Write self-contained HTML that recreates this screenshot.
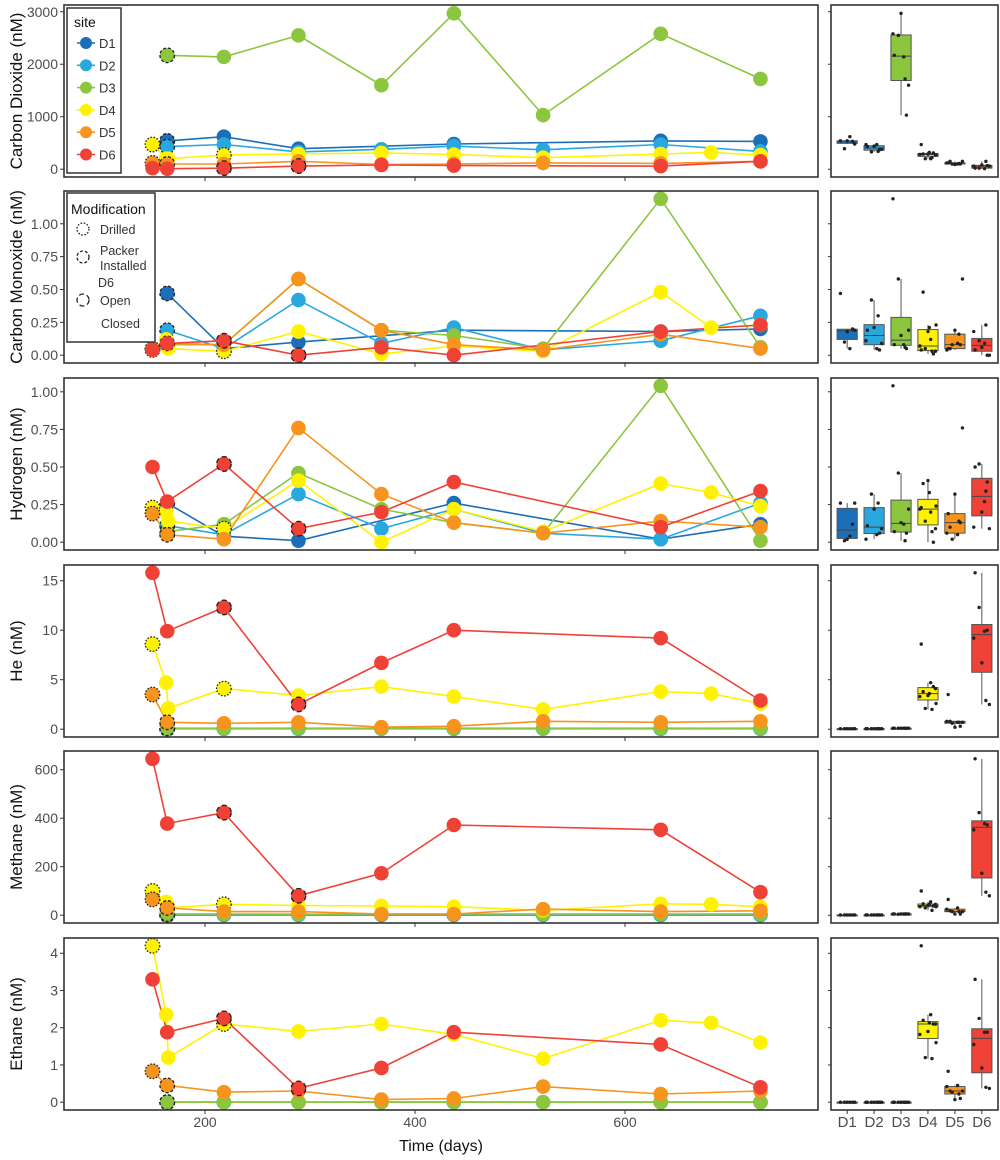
<!DOCTYPE html>
<html><head><meta charset="utf-8">
<style>
html,body{margin:0;padding:0;background:#fff;}
svg{display:block;font-family:"Liberation Sans",sans-serif;}
</style></head>
<body>
<svg id="chart" width="1000" height="1160" viewBox="0 0 1000 1160"></svg>
<script>
const sites=['D1','D2','D3','D4','D5','D6'];
const colors=['#1b6fb8','#29a8e0','#8cc63f','#fff200','#f7941d','#ef4136'];
const daysD1=[164,218,289,437,634,729];
const daysD2=[164,218,289,368,437,522,634,729];
const daysD3=[164,218,289,368,437,522,634,729];
const daysD4=[150,163,165,218,289,368,437,522,634,682,729];
const daysD5=[150,164,218,289,368,437,522,634,729];
const daysD6=[150,164,218,289,368,437,634,729];
const modD1=['p','','','','',''];
const modD2=['p','','','','','','',''];
const modD3=['p','','','','','','',''];
const modD4=['d','','','d','','','','','','',''];
const modD5=['d','p','','','','','','',''];
const modD6=['','','o','o','','','',''];
// Carbon dioxide
const co2D1=[540,620,390,480,540,530];
const co2D2=[430,470,330,380,440,370,470,340];
const co2D3=[2170,2140,2550,1600,2970,1030,2580,1720];
const co2D4=[470,200,200,270,290,310,280,220,290,320,270];
const co2D5=[120,100,100,150,90,100,120,110,150];
const co2D6=[20,10,20,60,80,70,60,150];
// Carbon monoxide
const coD1=[0.47,0.05,0.10,0.19,0.18,0.20];
const coD2=[0.19,0.05,0.42,0.09,0.21,0.04,0.11,0.30];
const coD3=[0.08,0.08,0.58,0.19,0.15,0.05,1.19,0.06];
const coD4=[0.04,0.12,0.05,0.03,0.18,0.01,0.07,0.03,0.48,0.21,0.23];
const coD5=[0.05,0.09,0.08,0.58,0.19,0.08,0.04,0.16,0.05];
const coD6=[0.04,0.09,0.11,0.00,0.06,0.00,0.18,0.23];
// Hydrogen
const h2D1=[0.26,0.04,0.01,0.26,0.02,0.12];
const h2D2=[0.11,0.05,0.32,0.09,0.22,0.06,0.02,0.26];
const h2D3=[0.07,0.12,0.46,0.22,0.13,0.06,1.04,0.01];
const h2D4=[0.23,0.20,0.14,0.09,0.41,0.00,0.22,0.07,0.39,0.33,0.24];
const h2D5=[0.19,0.05,0.02,0.76,0.32,0.13,0.06,0.14,0.10];
const h2D6=[0.50,0.27,0.52,0.09,0.20,0.40,0.10,0.34];
// Helium
const heD1=[0.05,0.05,0.05,0.05,0.05,0.05];
const heD2=[0.05,0.05,0.05,0.05,0.05,0.05,0.05,0.05];
const heD3=[0.1,0.1,0.1,0.1,0.1,0.1,0.1,0.1];
const heD4=[8.6,4.7,2.1,4.1,3.4,4.3,3.3,2.0,3.8,3.6,2.6];
const heD5=[3.5,0.7,0.6,0.7,0.2,0.3,0.8,0.7,0.8];
const heD6=[15.8,9.9,12.3,2.5,6.7,10.0,9.2,2.9];
// Methane
const ch4D1=[1,1,1,1,1,1];
const ch4D2=[1,1,1,1,1,1,1,1];
const ch4D3=[5,5,4,5,5,5,5,5];
const ch4D4=[100,55,30,45,40,38,35,20,47,45,35];
const ch4D5=[65,30,15,15,5,5,25,15,18];
const ch4D6=[645,378,423,80,173,372,352,95];
// Ethane
const c2D1=[0,0,0,0,0,0];
const c2D2=[0,0,0,0,0,0,0,0];
const c2D3=[0,0,0,0,0,0,0,0];
const c2D4=[4.2,2.35,1.2,2.1,1.9,2.1,1.82,1.17,2.2,2.13,1.6];
const c2D5=[0.83,0.45,0.27,0.3,0.07,0.1,0.42,0.22,0.3];
const c2D6=[3.3,1.88,2.25,0.37,0.92,1.88,1.55,0.4];
const xTicks=[200,400,600];
const co2Ticks=[0,1000,2000,3000];
const coTicks=[0,0.25,0.5,0.75,1.0];
const h2Ticks=[0,0.25,0.5,0.75,1.0];
const heTicks=[0,5,10,15];
const ch4Ticks=[0,200,400,600];
const c2Ticks=[0,1,2,3,4];

const days=[daysD1,daysD2,daysD3,daysD4,daysD5,daysD6];
const mods=[modD1,modD2,modD3,modD4,modD5,modD6];
const panels=[
 {name:'carbon-dioxide',title:'Carbon Dioxide (nM)',vals:[co2D1,co2D2,co2D3,co2D4,co2D5,co2D6],ticks:co2Ticks,dom:[0,2980],fmt:v=>String(v)},
 {name:'carbon-monoxide',title:'Carbon Monoxide (nM)',vals:[coD1,coD2,coD3,coD4,coD5,coD6],ticks:coTicks,dom:[0,1.19],fmt:v=>v.toFixed(2)},
 {name:'hydrogen',title:'Hydrogen (nM)',vals:[h2D1,h2D2,h2D3,h2D4,h2D5,h2D6],ticks:h2Ticks,dom:[0,1.04],fmt:v=>v.toFixed(2)},
 {name:'helium',title:'He (nM)',vals:[heD1,heD2,heD3,heD4,heD5,heD6],ticks:heTicks,dom:[0,15.8],fmt:v=>String(v)},
 {name:'methane',title:'Methane (nM)',vals:[ch4D1,ch4D2,ch4D3,ch4D4,ch4D5,ch4D6],ticks:ch4Ticks,dom:[0,645],fmt:v=>String(v)},
 {name:'ethane',title:'Ethane (nM)',vals:[c2D1,c2D2,c2D3,c2D4,c2D5,c2D6],ticks:c2Ticks,dom:[0,4.2],fmt:v=>String(v)}
];
const NS='http://www.w3.org/2000/svg';
const svg=document.getElementById('chart');
function el(tag,attrs,parent){const e=document.createElementNS(NS,tag);for(const k in attrs)e.setAttribute(k,attrs[k]);(parent||svg).appendChild(e);return e;}
const LX0=64,LX1=818,RX0=831,RX1=998,PH=172;
const tops=[5,191,378,565,751,938];
function xScale(d){return 205+(d-200)*1.05;}
function catX(i){const u=(RX1-RX0)/6.2;return RX0+(0.6+i)*u;}
function quant(a,p){const s=[...a].sort((x,y)=>x-y);const h=(s.length-1)*p;const lo=Math.floor(h);return s[lo]+(s[Math.min(lo+1,s.length-1)]-s[lo])*(h-lo);}
const jit=[-0.25,0.1,-0.1,0.28,0,0.2,-0.3,0.15,-0.18,0.05,0.3];
const dashes={d:'1.6,1.6',p:'3,2',o:'5,3'};

panels.forEach((p,pi)=>{
  const top=tops[pi],bot=top+PH;
  const y0=bot-7.8,y1=top+7.8;
  const yScale=v=>y0-(v-p.dom[0])/(p.dom[1]-p.dom[0])*(y0-y1);
  const g=el('g',{});
  
  
  // y title
  const t=el('text',{x:0,y:0,transform:`translate(22,${(top+bot)/2}) rotate(-90)`,'text-anchor':'middle','font-size':'17',fill:'#111'},g);
  t.textContent=p.title;
  
  
  // ticks
  p.ticks.forEach(v=>{
    const y=yScale(v);
    el('line',{x1:LX0-4,x2:LX0,y1:y,y2:y,stroke:'#333','stroke-width':1},g);
    const tl=el('text',{x:LX0-6,y:y+5,'text-anchor':'end','font-size':'14',fill:'#4d4d4d'},g);
    tl.textContent=p.fmt(v);
    
    
    el('line',{x1:RX0-3,x2:RX0,y1:y,y2:y,stroke:'#333','stroke-width':1},g);
  });
  xTicks.forEach(d=>{el('line',{x1:xScale(d),x2:xScale(d),y1:bot,y2:bot+4,stroke:'#333','stroke-width':1},g);});
  // lines
  p.vals.forEach((vals,si)=>{
    const pts=vals.map((v,i)=>xScale(days[si][i]).toFixed(1)+','+yScale(v).toFixed(1)).join(' ');
    const pl=el('polyline',{points:pts,fill:'none',stroke:colors[si],'stroke-width':1.6},g);
    
    
  });
  // points
  p.vals.forEach((vals,si)=>{
    vals.forEach((v,i)=>{
      const c=el('circle',{cx:xScale(days[si][i]),cy:yScale(v),r:7.3,fill:colors[si]},g);
      
      
      const m=mods[si][i];
      if(m){c.setAttribute('stroke','#222');c.setAttribute('stroke-width','1.3');c.setAttribute('stroke-dasharray',dashes[m]);}
    });
  });
  // boxplots
  p.vals.forEach((vals,si)=>{
    const cx=catX(si),u=(RX1-RX0)/6.2,bw=u*0.75;
    const q1=quant(vals,0.25),q2=quant(vals,0.5),q3=quant(vals,0.75),iqr=q3-q1;
    const lo=Math.min(...vals.filter(v=>v>=q1-1.5*iqr)),hi=Math.max(...vals.filter(v=>v<=q3+1.5*iqr));
    const bg=el('g',{},g);
    
    
    el('line',{x1:cx,x2:cx,y1:yScale(hi),y2:yScale(q3),stroke:'#555','stroke-width':1},bg);
    el('line',{x1:cx,x2:cx,y1:yScale(q1),y2:yScale(lo),stroke:'#555','stroke-width':1},bg);
    el('rect',{x:cx-bw/2,y:yScale(q3),width:bw,height:Math.max(1,yScale(q1)-yScale(q3)),fill:colors[si],stroke:'#555','stroke-width':1},bg);
    el('line',{x1:cx-bw/2,x2:cx+bw/2,y1:yScale(q2),y2:yScale(q2),stroke:'#444','stroke-width':1},bg);
    vals.forEach((v,i)=>{
      const d=el('circle',{cx:cx+jit[i%jit.length]*u,cy:yScale(v),r:1.7,fill:'#222'},bg);
      
      
    });
  });
  // frames
  const f1=el('rect',{x:LX0,y:top,width:LX1-LX0,height:PH,fill:'none',stroke:'#333','stroke-width':1.6},g);
  
  
  const f2=el('rect',{x:RX0,y:top,width:RX1-RX0,height:PH,fill:'none',stroke:'#333','stroke-width':1.6},g);
  
  
});
// x axis labels
xTicks.forEach(d=>{
  const t=el('text',{x:xScale(d),y:1127,'text-anchor':'middle','font-size':'14',fill:'#4d4d4d'});
  t.textContent=String(d);
  
  
});
const xt=el('text',{x:441,y:1151,'text-anchor':'middle','font-size':'16',fill:'#111'});
xt.textContent='Time (days)';


sites.forEach((s,i)=>{
  const t=el('text',{x:catX(i),y:1127,'text-anchor':'middle','font-size':'15',fill:'#4d4d4d'});
  t.textContent=s;
  
  
  el('line',{x1:catX(i),x2:catX(i),y1:1110,y2:1114,stroke:'#333','stroke-width':1});
});
// site legend
const lg=el('g',{});


el('rect',{x:67,y:8,width:54,height:165,fill:'#fff',stroke:'#333','stroke-width':1.5},lg);
const lt=el('text',{x:74,y:27,'font-size':'14',fill:'#111'},lg);lt.textContent='site';
sites.forEach((s,i)=>{
  const y=43+i*22.3;
  const e=el('g',{},lg);
  
  
  el('line',{x1:77,x2:95,y1:y,y2:y,stroke:colors[i],'stroke-width':1.6},e);
  el('circle',{cx:86,cy:y,r:6,fill:colors[i]},e);
  const tx=el('text',{x:99,y:y+5,'font-size':'13',fill:'#333'},e);tx.textContent=s;
});
// modification legend
const mg=el('g',{});


el('rect',{x:67,y:193,width:88,height:149,fill:'#fff',stroke:'#333','stroke-width':1.5},mg);
const mt=el('text',{x:71,y:214,'font-size':'14',fill:'#111'},mg);mt.textContent='Modification';
const modItems=[['d',229,[['Drilled',234]]],['p',257,[['Packer',255],['Installed',270]]],['o',300,[['Open',305]]]];
modItems.forEach(([m,cy,lines])=>{
  const e=el('g',{},mg);
  
  
  el('circle',{cx:83,cy:cy,r:6,fill:'none',stroke:'#222','stroke-width':1.3,'stroke-dasharray':dashes[m]},e);
  lines.forEach(([s,y])=>{const tx=el('text',{x:100,y:y,'font-size':'12.5',fill:'#333'},e);tx.textContent=s;});
});
const d6=el('text',{x:98,y:287,'font-size':'12.5',fill:'#333'},mg);d6.textContent='D6';
const cl=el('text',{x:101,y:328,'font-size':'12.5',fill:'#333'},mg);cl.textContent='Closed';
</script>
</body></html>
